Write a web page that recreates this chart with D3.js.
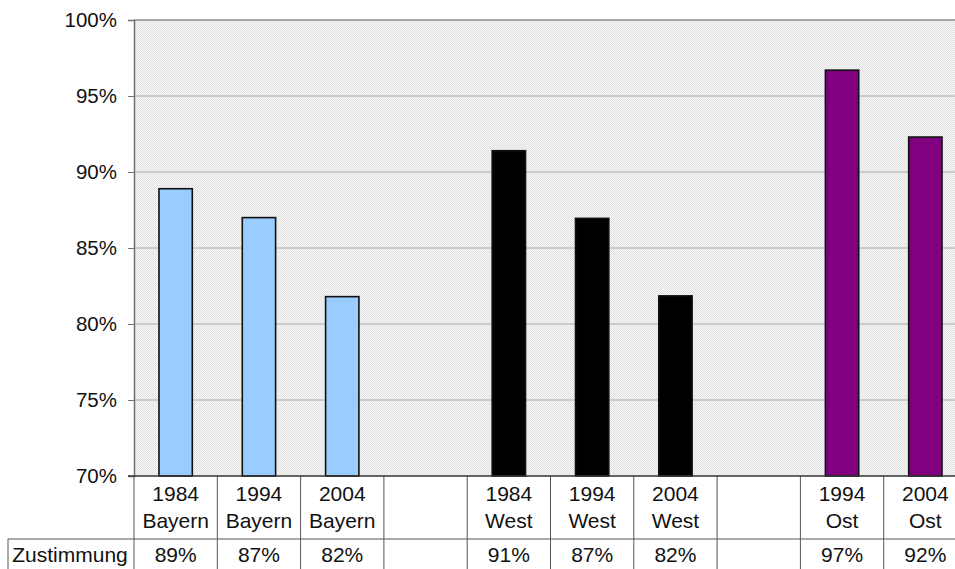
<!DOCTYPE html>
<html>
<head>
<meta charset="utf-8">
<script src="https://cdn.jsdelivr.net/npm/d3@7"></script>
<style>
  body { margin: 0; background: #fff; }
  svg { display: block; font-family: "Liberation Sans", Arial, sans-serif; }
</style>
</head>
<body>
<svg id="chart" width="955" height="569"></svg>
<script>
// one entry per table column, empty strings / null are the spacer columns
const years = ["1984", "1994", "2004", "", "1984", "1994", "2004", "", "1994", "2004"];
const regions = ["Bayern", "Bayern", "Bayern", "", "West", "West", "West", "", "Ost", "Ost"];
const values = [88.9, 87.0, 81.8, null, 91.4, 86.95, 81.85, null, 96.7, 92.3];
const yTicks = [70, 75, 80, 85, 90, 95, 100];
const rowLabel = "Zustimmung";
const regionColors = { Bayern: "#99ccff", West: "#000000", Ost: "#800080" };

const svg = d3.select("#chart");
const plotLeft = 134, plotTop = 20, plotBottom = 476;
const colW = 83.3;
const plotRight = plotLeft + colW * values.length;

const x = d3.scaleBand()
  .domain(d3.range(values.length))
  .range([plotLeft, plotRight])
  .padding(0);
const y = d3.scaleLinear().domain([70, 100]).range([plotBottom, plotTop]);
const pct = d3.format(".0%");

// dotted background
const defs = svg.append("defs");
const pat = defs.append("pattern")
  .attr("id", "dots")
  .attr("patternUnits", "userSpaceOnUse")
  .attr("width", 2).attr("height", 2);
pat.append("rect").attr("width", 2).attr("height", 2).attr("fill", "#f5f5f5");
pat.append("rect").attr("width", 1).attr("height", 1).attr("fill", "#e3e3e3");
pat.append("rect").attr("x", 1).attr("y", 1).attr("width", 1).attr("height", 1).attr("fill", "#e3e3e3");

svg.append("rect")
  .attr("x", plotLeft).attr("y", plotTop)
  .attr("width", plotRight - plotLeft).attr("height", plotBottom - plotTop)
  .attr("fill", "url(#dots)");

// grid lines
svg.append("g")
  .selectAll("line")
  .data(yTicks.filter(t => t > 70))
  .join("line")
  .attr("x1", plotLeft).attr("x2", plotRight)
  .attr("y1", d => y(d)).attr("y2", d => y(d))
  .attr("stroke", d => d === 100 ? "#8c8c8c" : "#ababab")
  .attr("stroke-width", d => d === 100 ? 1.5 : 1);

// y axis
const yAxis = svg.append("g")
  .attr("transform", `translate(${plotLeft},0)`)
  .call(d3.axisLeft(y).tickValues(yTicks).tickSize(6).tickPadding(11).tickFormat(d => d + "%"));
yAxis.select(".domain").attr("stroke", "#707070").attr("stroke-width", 1.5);
yAxis.selectAll(".tick line").attr("stroke", "#707070");
yAxis.selectAll(".tick text")
  .attr("font-size", 20.5)
  .attr("fill", "#111")
  .attr("font-family", "Liberation Sans, Arial, sans-serif");

// bars
const bw = x.bandwidth();
svg.append("g")
  .selectAll("rect")
  .data(values.map((v, i) => ({ v, i })).filter(d => d.v != null))
  .join("rect")
  .attr("x", d => x(d.i) + bw * 0.3)
  .attr("width", bw * 0.4)
  .attr("y", d => y(d.v))
  .attr("height", d => y(70) - y(d.v))
  .attr("fill", d => regionColors[regions[d.i]])
  .attr("stroke", "#111")
  .attr("stroke-width", 1.6);

// data table
const rowTop = 539;
const table = svg.append("g").attr("stroke", "#555").attr("stroke-width", 1);
table.append("line").attr("x1", plotLeft).attr("x2", plotLeft).attr("y1", plotBottom).attr("y2", 569);
table.append("line").attr("x1", 8).attr("x2", plotRight).attr("y1", rowTop).attr("y2", rowTop);
table.append("line").attr("x1", 8).attr("x2", 8).attr("y1", rowTop).attr("y2", 569);
table.selectAll(".sep")
  .data(d3.range(1, values.length + 1))
  .join("line")
  .attr("class", "sep")
  .attr("x1", d => plotLeft + bw * d).attr("x2", d => plotLeft + bw * d)
  .attr("y1", plotBottom).attr("y2", 569);

// x axis line
svg.append("line")
  .attr("x1", plotLeft - 6).attr("x2", plotRight)
  .attr("y1", plotBottom).attr("y2", plotBottom)
  .attr("stroke", "#333").attr("stroke-width", 1.5);

const txt = svg.append("g")
  .attr("font-size", 21)
  .attr("fill", "#111")
  .attr("text-anchor", "middle");

txt.selectAll(".yr")
  .data(years)
  .join("text")
  .attr("x", (d, i) => x(i) + bw / 2)
  .attr("y", 501)
  .text(d => d);

txt.selectAll(".rg")
  .data(regions)
  .join("text")
  .attr("x", (d, i) => x(i) + bw / 2)
  .attr("y", 528)
  .text(d => d);

txt.selectAll(".val")
  .data(values)
  .join("text")
  .attr("x", (d, i) => x(i) + bw / 2)
  .attr("y", 562)
  .text(d => d == null ? "" : pct(d / 100));

txt.append("text")
  .attr("x", 70)
  .attr("y", 562)
  .text(rowLabel);
</script>
</body>
</html>
